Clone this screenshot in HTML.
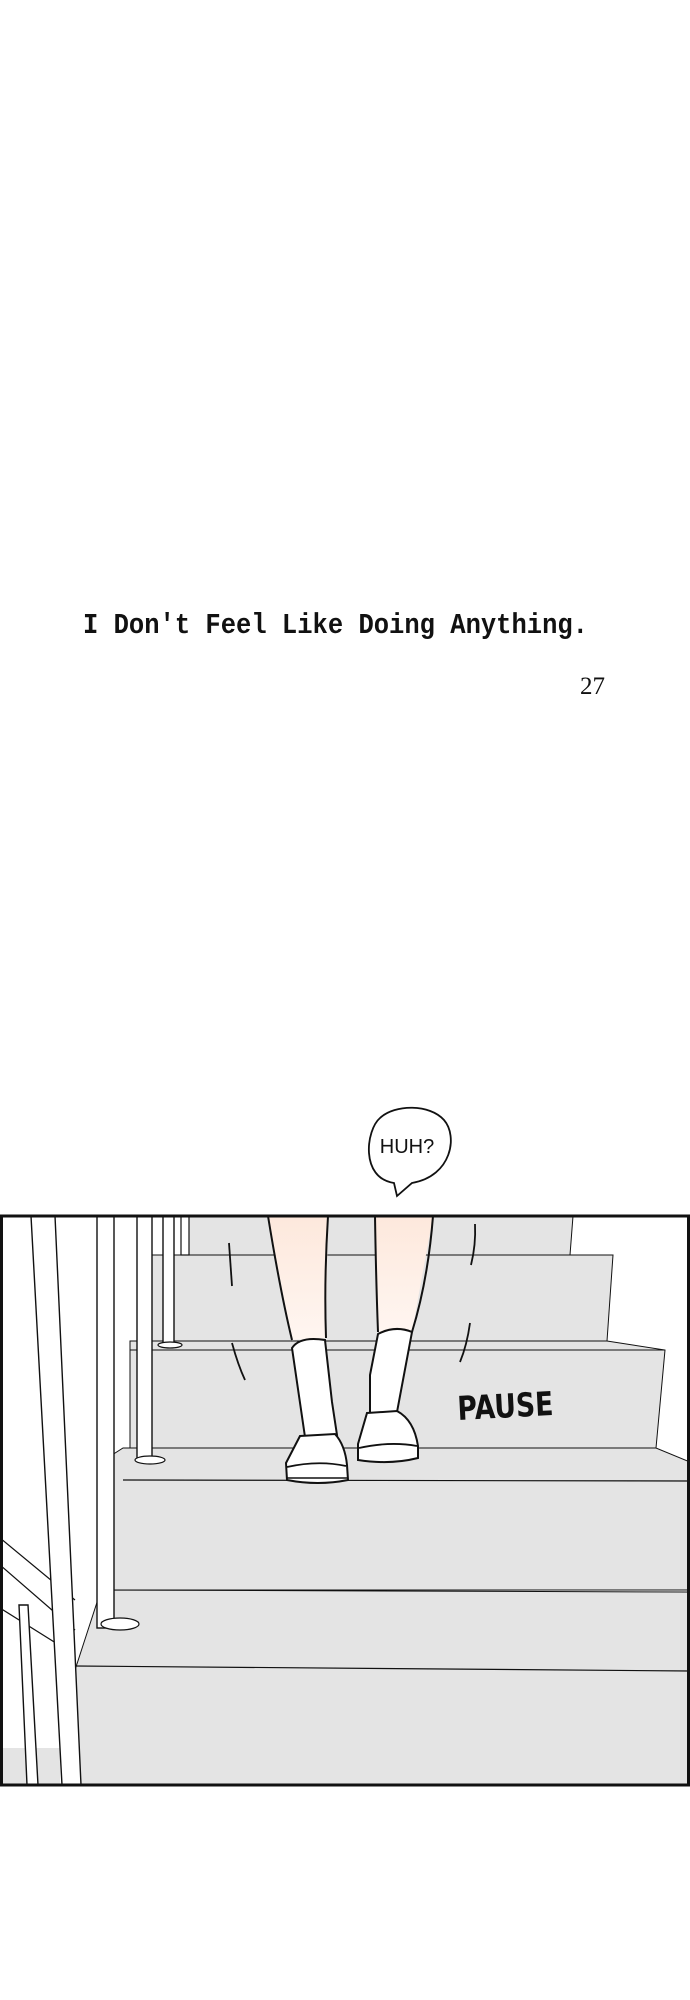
<!DOCTYPE html>
<html><head><meta charset="utf-8"><style>
html,body{margin:0;padding:0;background:#fff;}
body{width:690px;height:2000px;position:relative;overflow:hidden;}
svg{position:absolute;left:0;top:0;}
</style></head><body>
<svg width="690" height="2000" viewBox="0 0 690 2000" xmlns="http://www.w3.org/2000/svg">
<defs>
<linearGradient id="skin" x1="0" y1="0" x2="0" y2="1">
<stop offset="0" stop-color="#fde8dc"/><stop offset="1" stop-color="#fff6f1"/>
</linearGradient>
</defs>
<text x="83" y="633" font-family="Liberation Mono, monospace" font-weight="bold" font-size="28.5" fill="#111" textLength="505" lengthAdjust="spacingAndGlyphs">I Don't Feel Like Doing Anything.</text>
<text x="580" y="694" font-family="Liberation Serif, serif" font-size="25" fill="#111">27</text>

<!-- bubble -->
<path d="M394 1183 C360 1178 366 1130 380 1118 C395 1104 430 1104 444 1120 C458 1136 452 1176 412 1183 L397 1196 Z" fill="#fff" stroke="#111" stroke-width="1.8"/>
<text x="407" y="1153" text-anchor="middle" font-family="Liberation Sans, sans-serif" font-size="20" fill="#111">HUH?</text>

<!-- panel -->
<rect x="1.5" y="1216" width="687" height="569" fill="#fff"/>
<!-- steps -->
<polygon points="189,1216 573,1216 570,1255 189,1255" fill="#e4e4e4" stroke="#111" stroke-width="1"/>
<polygon points="152,1255 613,1255 607,1341 152,1341" fill="#e4e4e4" stroke="#111" stroke-width="1"/>
<polygon points="130,1341 607,1341 665,1350 656,1448 130,1448" fill="#e4e4e4" stroke="#111" stroke-width="1"/>
<polygon points="101,1462 123,1448 656,1448 690,1462 690,1590 101,1590" fill="#e4e4e4" stroke="#111" stroke-width="1"/>
<polygon points="75,1670 101,1590 690,1592 690,1785 75,1785" fill="#e4e4e4" stroke="#111" stroke-width="1"/>
<line x1="75" y1="1666" x2="690" y2="1671" stroke="#111" stroke-width="1.2"/>
<line x1="123" y1="1480" x2="690" y2="1481" stroke="#111" stroke-width="1.2"/>
<line x1="130" y1="1350" x2="665" y2="1350" stroke="#111" stroke-width="1"/>
<rect x="0" y="1748" width="60" height="37" fill="#e4e4e4"/>
<!-- diagonal rails -->
<line x1="0" y1="1538" x2="75" y2="1600" stroke="#111" stroke-width="1.2"/>
<line x1="0" y1="1565" x2="75" y2="1630" stroke="#111" stroke-width="1.2"/>
<line x1="0" y1="1608" x2="75" y2="1655" stroke="#111" stroke-width="1.2"/>
<!-- long verticals -->
<polygon points="31,1216 55,1216 81,1785 62,1785" fill="#fff" stroke="#111" stroke-width="1.4"/>
<polygon points="19,1605 28,1605 38,1785 27,1785" fill="#fff" stroke="#111" stroke-width="1.4"/>
<!-- posts -->
<rect x="97" y="1216" width="17" height="412" fill="#fff" stroke="#111" stroke-width="1.4"/>
<ellipse cx="120" cy="1624" rx="19" ry="6" fill="#fff" stroke="#111" stroke-width="1.2"/>
<rect x="137" y="1216" width="15" height="245" fill="#fff" stroke="#111" stroke-width="1.4"/>
<ellipse cx="150" cy="1460" rx="15" ry="4" fill="#fff" stroke="#111" stroke-width="1.2"/>
<rect x="163" y="1216" width="11" height="129" fill="#fff" stroke="#111" stroke-width="1.4"/>
<ellipse cx="170" cy="1345" rx="12" ry="3" fill="#fff" stroke="#111" stroke-width="1.2"/>
<rect x="181" y="1216" width="8" height="39" fill="#fff" stroke="#111" stroke-width="1.2"/>
<!-- legs -->
<path d="M268 1216 L292 1340 L326 1338 L328 1216 Z" fill="url(#skin)"/>
<path d="M375 1216 L378 1332 L412 1332 L433 1216 Z" fill="url(#skin)"/>
<path d="M268 1216 Q280 1290 292 1340" fill="none" stroke="#111" stroke-width="2"/>
<path d="M328 1216 Q324 1280 326 1338" fill="none" stroke="#111" stroke-width="2"/>
<path d="M375 1216 Q376 1280 378 1332" fill="none" stroke="#111" stroke-width="2"/>
<path d="M433 1216 Q428 1280 412 1332" fill="none" stroke="#111" stroke-width="2"/>
<!-- socks -->
<path d="M292 1348 Q300 1336 325 1340 L332 1402 L337 1435 L305 1437 Z" fill="#fff" stroke="#111" stroke-width="2"/>
<path d="M378 1334 Q395 1325 412 1332 L397 1412 L370 1415 L370 1375 Z" fill="#fff" stroke="#111" stroke-width="2"/>
<!-- sandals -->
<path d="M300 1436 L335 1434 Q345 1445 347 1465 L348 1480 Q318 1486 287 1480 L286 1463 Z" fill="#fff" stroke="#111" stroke-width="2"/>
<path d="M287 1467 Q318 1460 346 1466" fill="none" stroke="#111" stroke-width="1.8"/>
<path d="M287 1478 L348 1478" fill="none" stroke="#111" stroke-width="1.5"/>
<path d="M367 1413 L397 1411 Q414 1420 418 1446 L418 1458 Q390 1465 358 1460 L358 1444 Z" fill="#fff" stroke="#111" stroke-width="2"/>
<path d="M359 1448 Q390 1441 417 1446" fill="none" stroke="#111" stroke-width="1.8"/>
<!-- motion lines -->
<path d="M229 1243 L232 1286" stroke="#111" stroke-width="1.8" fill="none"/>
<path d="M232 1343 Q238 1365 245 1380" stroke="#111" stroke-width="1.8" fill="none"/>
<path d="M475 1224 Q476 1245 471 1265" stroke="#111" stroke-width="1.8" fill="none"/>
<path d="M470 1323 Q467 1345 460 1362" stroke="#111" stroke-width="1.8" fill="none"/>
<text x="458" y="1420" font-family="DejaVu Sans, sans-serif" font-weight="bold" font-size="33" fill="#111" transform="rotate(-3 458 1420)" textLength="96" lengthAdjust="spacingAndGlyphs">PAUSE</text>
<rect x="1.5" y="1216" width="687" height="569" fill="none" stroke="#111" stroke-width="3"/>
</svg>
</body></html>
